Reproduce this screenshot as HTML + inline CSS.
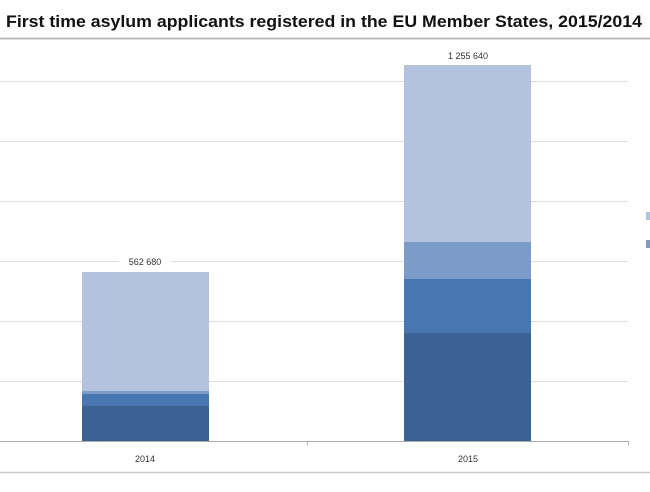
<!DOCTYPE html>
<html><head><meta charset="utf-8"><style>
body{margin:0;background:#fff;width:650px;height:487px;overflow:hidden}
</style></head><body>
<svg width="650" height="487" xmlns="http://www.w3.org/2000/svg" font-family="Liberation Sans, sans-serif">
<text x="6" y="27" font-size="16.5" font-weight="bold" fill="#111" textLength="636" lengthAdjust="spacingAndGlyphs">First time asylum applicants registered in the EU Member States, 2015/2014</text>
<line x1="0" y1="38.5" x2="650" y2="38.5" stroke="#bbb" stroke-width="2"/>
<g stroke="#ddd" stroke-width="1">
<line x1="0" y1="81.5" x2="628" y2="81.5"/>
<line x1="0" y1="141.5" x2="628" y2="141.5"/>
<line x1="0" y1="201.5" x2="628" y2="201.5"/>
<line x1="0" y1="261.5" x2="628" y2="261.5"/>
<line x1="0" y1="321.5" x2="628" y2="321.5"/>
<line x1="0" y1="381.5" x2="628" y2="381.5"/>
</g>
<line x1="0" y1="441.5" x2="628" y2="441.5" stroke="#aaa"/>
<line x1="307.5" y1="441" x2="307.5" y2="445" stroke="#aaa"/>
<line x1="628.5" y1="441" x2="628.5" y2="445" stroke="#aaa"/>
<line x1="0" y1="472.5" x2="650" y2="472.5" stroke="#ccc" stroke-width="1.5"/>
<rect x="82" y="272" width="127" height="119" fill="#b3c2dd"/>
<rect x="82" y="391" width="127" height="3" fill="#7d9bc9"/>
<rect x="82" y="394" width="127" height="12" fill="#4776b0"/>
<rect x="82" y="406" width="127" height="35" fill="#3c6293"/>
<rect x="404" y="65" width="127" height="177" fill="#b3c2dd"/>
<rect x="404" y="242" width="127" height="37" fill="#7d9bc9"/>
<rect x="404" y="279" width="127" height="54" fill="#4776b0"/>
<rect x="404" y="333" width="127" height="108" fill="#3c6293"/>
<rect x="119" y="256" width="52" height="10" fill="#fff"/>
<text x="145" y="265" font-size="9" text-anchor="middle" fill="#333">562 680</text>
<text x="468" y="59" font-size="9" text-anchor="middle" fill="#333">1 255 640</text>
<text x="145" y="462" font-size="9" text-anchor="middle" fill="#333">2014</text>
<text x="468" y="462" font-size="9" text-anchor="middle" fill="#333">2015</text>
<rect x="646" y="212" width="4" height="8" fill="#b3c2dd"/>
<rect x="646" y="240" width="4" height="8" fill="#7d9bc9"/>
</svg>
</body></html>
